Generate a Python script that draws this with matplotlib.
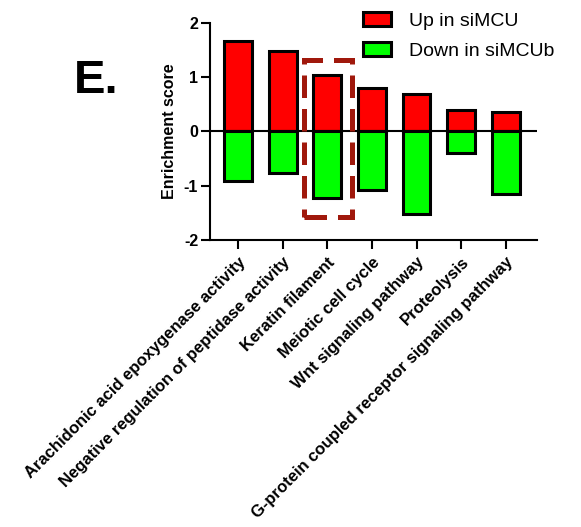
import matplotlib
matplotlib.use("Agg")
import matplotlib.pyplot as plt
from matplotlib.patches import Patch, Rectangle

plt.rcParams['font.family'] = ['Liberation Sans', 'DejaVu Sans']

categories = [
    "Arachidonic acid epoxygenase activity",
    "Negative regulation of peptidase activity",
    "Keratin filament",
    "Meiotic cell cycle",
    "Wnt signaling pathway",
    "Proteolysis",
    "G-protein coupled receptor signaling pathway",
]
up_values = [1.66, 1.48, 1.05, 0.80, 0.69, 0.40, 0.36]
down_values = [-0.92, -0.77, -1.23, -1.08, -1.52, -0.40, -1.15]
series_labels = ["Up in siMCU", "Down in siMCUb"]
y_ticks = [-2, -1, 0, 1, 2]

fig = plt.figure(figsize=(5.81, 5.27), dpi=100)
ax = fig.add_axes([0.3614, 0.5446, 0.5628, 0.4118])

x = list(range(len(categories)))
w = 0.62
ax.bar(x, up_values, width=w, color='#FF0000', edgecolor='black', linewidth=2.2, zorder=2)
ax.bar(x, down_values, width=w, color='#00FF00', edgecolor='black', linewidth=2.2, zorder=2)
ax.axhline(0, color='black', linewidth=1.5, zorder=3)

# highlight box around Keratin filament
hl = Rectangle((1.48, -1.57), 1.08, 2.88, fill=False, edgecolor='#A0180C',
               linewidth=3.6, linestyle=(0, (4.5, 2.2)), zorder=4, clip_on=False)
ax.add_patch(hl)

ax.set_xlim(-0.63, 6.7)
ax.set_ylim(-2, 2)
ax.set_yticks(y_ticks)
ax.set_yticklabels([str(v) for v in y_ticks], fontsize=11.5, fontweight='bold')
ax.set_xticks(x)
ax.set_xticklabels(categories, rotation=45, ha='right', rotation_mode='anchor',
                   fontsize=12, fontweight='bold')
ax.tick_params(axis='both', direction='out', length=6.5, width=1.5)
ax.tick_params(axis='x', pad=4)
ax.tick_params(axis='y', pad=2)
for s in ['top', 'right']:
    ax.spines[s].set_visible(False)
for s in ['left', 'bottom']:
    ax.spines[s].set_linewidth(1.5)
ax.set_ylabel("Enrichment score", fontsize=11.5, fontweight='bold', labelpad=5)

handles = [Patch(facecolor='#FF0000', edgecolor='black', linewidth=2.2),
           Patch(facecolor='#00FF00', edgecolor='black', linewidth=2.2)]
leg = fig.legend(handles, series_labels, loc='upper left',
                 bbox_to_anchor=(363 / 581, 1 - 12 / 527),
                 frameon=False, fontsize=14, handlelength=1.45, handleheight=0.72,
                 labelspacing=0.62, handletextpad=0.9, borderpad=0, borderaxespad=0)

fig.text(74 / 581, 1 - 93 / 527, "E.", fontsize=34, fontweight='bold', va='baseline')

fig.savefig("out.png", dpi=100)
